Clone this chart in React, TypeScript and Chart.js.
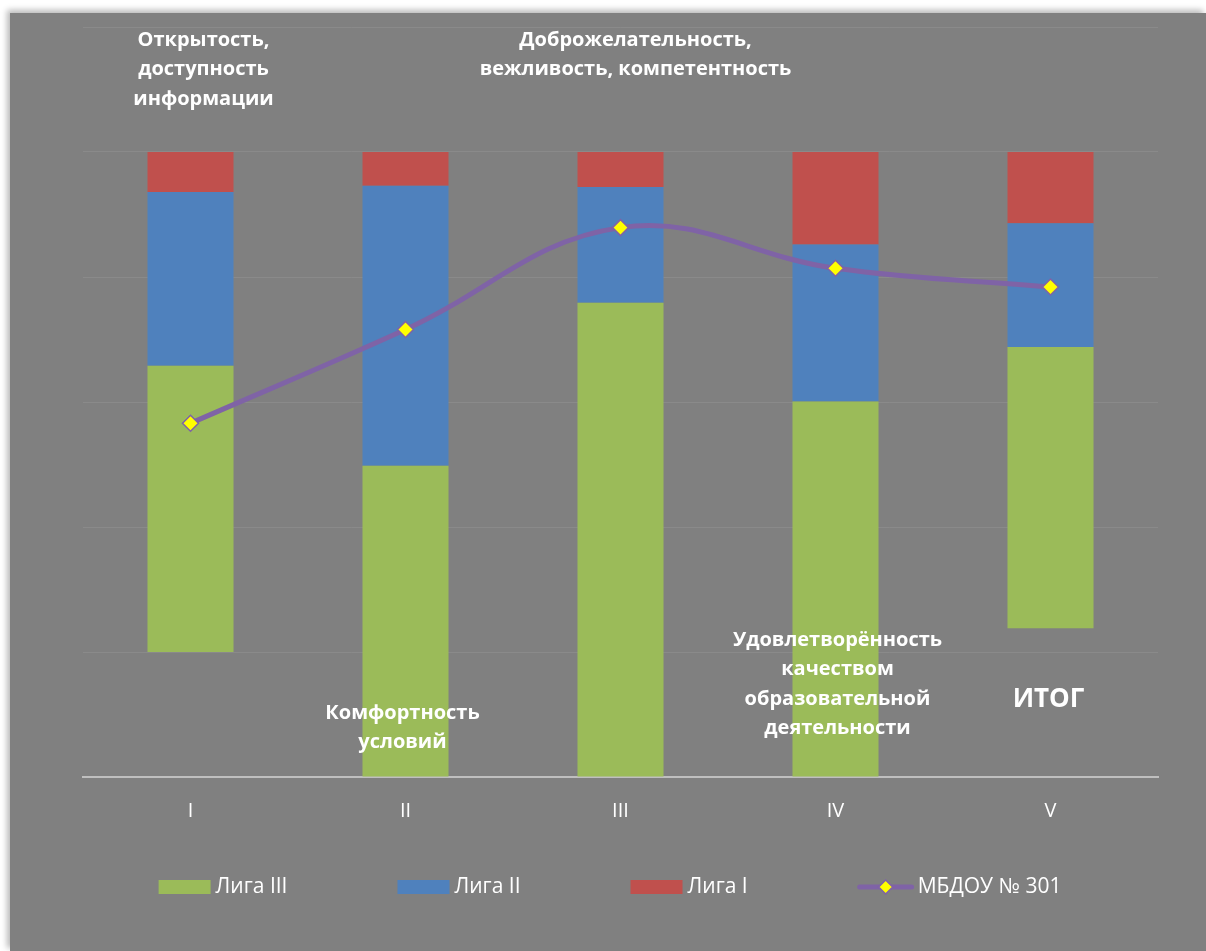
import React, { useEffect, useRef } from "react";
import { Chart, registerables } from "chart.js";

Chart.register(...registerables);

// ---- data ----
const categories = ["I", "II", "III", "IV", "V"];
const baseOffset = [20, 0, 0, 0, 23.8];
const league3 = [45.8, 49.8, 75.9, 60.1, 45.0];
const league2 = [27.8, 44.8, 18.5, 25.1, 19.8];
const league1 = [6.4, 5.4, 5.6, 14.8, 11.4];
const school = [56.6, 71.6, 87.9, 81.4, 78.4];
const seriesNames = ["Лига III", "Лига II", "Лига I", "МБДОУ № 301"];
const yMin = 0;
const yMax = 120;
const yStep = 20;

const noteTexts = [
  ["Открытость,", "доступность", "информации"],
  ["Доброжелательность,", "вежливость, компетентность"],
  ["Комфортность", "условий"],
  ["Удовлетворённость", "качеством", "образовательной", "деятельности"],
  ["ИТОГ"],
];
const noteCategory = [0, 2, 1, 3, 4];

// ---- styles / layout ----
const FONT = '"Open Sans", sans-serif';
const GREEN = "#9BBB59";
const BLUE = "#4F81BD";
const RED = "#C0504D";
const PURPLE = "#7F63A6";
const YELLOW = "#FFFF00";
const BG = "#808080";

const noteLayout = [
  { dx: 13, y: 27, size: 20 },
  { dx: 15, y: 27, size: 20 },
  { dx: -3, y: 700, size: 20 },
  { dx: 2, y: 627, size: 20 },
  { dx: -2, y: 687, size: 26 },
];

const notesPlugin = {
  id: "notes",
  afterDatasetsDraw(chart: any) {
    const ctx = chart.ctx;
    const xs = chart.scales.x;
    ctx.save();
    ctx.fillStyle = "#FFFFFF";
    ctx.textAlign = "center";
    ctx.textBaseline = "middle";
    noteTexts.forEach((lines, i) => {
      const lay = noteLayout[i];
      ctx.font = `bold ${lay.size}px ${FONT}`;
      const cx = xs.getPixelForValue(noteCategory[i]) + lay.dx;
      lines.forEach((ln, j) => {
        ctx.fillText(ln, cx, lay.y + j * 29.5);
      });
    });
    ctx.restore();
  },
};

const legendPlugin = {
  id: "customLegend",
  afterDraw(chart: any) {
    const ctx = chart.ctx;
    ctx.save();
    ctx.font = `21px ${FONT}`;
    ctx.textBaseline = "middle";
    ctx.textAlign = "left";
    const colors = [GREEN, BLUE, RED, PURPLE];
    const swW = [52, 52, 52, 56];
    const gap = [5, 5, 5, 4];
    const spacing = 110;
    const widths = seriesNames.map(
      (t, i) => swW[i] + gap[i] + ctx.measureText(t).width
    );
    const total = widths.reduce((a, b) => a + b, 0) + spacing * (widths.length - 1);
    let x = chart.width / 2 - total / 2 + 2;
    const y = 874;
    seriesNames.forEach((t, i) => {
      if (i < 3) {
        ctx.fillStyle = colors[i];
        ctx.fillRect(x, y - 7, swW[i], 14);
      } else {
        ctx.strokeStyle = PURPLE;
        ctx.lineWidth = 5;
        ctx.lineCap = "round";
        ctx.beginPath();
        ctx.moveTo(x + 2, y);
        ctx.lineTo(x + swW[i] - 2, y);
        ctx.stroke();
        const cx = x + swW[i] / 2;
        const r = 7;
        ctx.beginPath();
        ctx.moveTo(cx, y - r);
        ctx.lineTo(cx + r, y);
        ctx.lineTo(cx, y + r);
        ctx.lineTo(cx - r, y);
        ctx.closePath();
        ctx.fillStyle = YELLOW;
        ctx.fill();
        ctx.lineWidth = 1.5;
        ctx.stroke();
      }
      ctx.fillStyle = "#FFFFFF";
      ctx.fillText(t, x + swW[i] + gap[i], y);
      x += widths[i] + spacing;
    });
    ctx.restore();
  },
};

export default function App() {
  const canvasRef = useRef<HTMLCanvasElement | null>(null);

  useEffect(() => {
    if (!canvasRef.current) return;
    const chart = new Chart(canvasRef.current, {
      type: "bar",
      data: {
        labels: categories,
        datasets: [
          {
            type: "line",
            label: seriesNames[3],
            data: school,
            borderColor: PURPLE,
            borderWidth: 5,
            tension: 0.4,
            pointStyle: "rectRot",
            pointRadius: 8,
            pointBackgroundColor: YELLOW,
            pointBorderColor: PURPLE,
            pointBorderWidth: 1.5,
            stack: "line",
            order: 0,
          } as any,
          {
            label: "base",
            data: baseOffset,
            backgroundColor: "rgba(0,0,0,0)",
            stack: "bars",
            order: 1,
          },
          {
            label: seriesNames[0],
            data: league3,
            backgroundColor: GREEN,
            stack: "bars",
            order: 1,
          },
          {
            label: seriesNames[1],
            data: league2,
            backgroundColor: BLUE,
            stack: "bars",
            order: 1,
          },
          {
            label: seriesNames[2],
            data: league1,
            backgroundColor: RED,
            stack: "bars",
            order: 1,
          },
        ],
      },
      options: {
        animation: false,
        responsive: true,
        maintainAspectRatio: false,
        datasets: {
          bar: { categoryPercentage: 1, barPercentage: 0.4 },
        },
        layout: { padding: { left: 73, right: 48, top: 14, bottom: 0 } },
        plugins: {
          legend: { display: false },
          tooltip: { enabled: false },
          title: { display: false },
        },
        scales: {
          x: {
            stacked: true,
            grid: { display: false, drawTicks: false },
            border: { display: true, color: "#BFBFBF", width: 2 },
            ticks: {
              color: "#FFFFFF",
              font: { family: FONT, size: 20 },
              padding: 22,
            },
            afterFit: (scale: any) => {
              scale.height = 174;
            },
          },
          y: {
            stacked: true,
            min: yMin,
            max: yMax,
            ticks: { display: false, stepSize: yStep },
            border: { display: false },
            grid: {
              drawTicks: false,
              color: (c: any) =>
                c.tick && c.tick.value === yMin ? "rgba(0,0,0,0)" : "#8A8A8A",
              lineWidth: 1,
            },
            afterFit: (scale: any) => {
              scale.width = 0;
            },
          },
        },
      },
      plugins: [notesPlugin, legendPlugin],
    });
    return () => chart.destroy();
  }, []);

  return (
    <div
      style={{
        position: "fixed",
        left: 10,
        top: 13,
        width: 1196,
        height: 938,
        background: BG,
        boxShadow: "-3px -3px 6px rgba(0,0,0,0.28)",
      }}
    >
      <canvas ref={canvasRef} style={{ display: "block" }} />
    </div>
  );
}
